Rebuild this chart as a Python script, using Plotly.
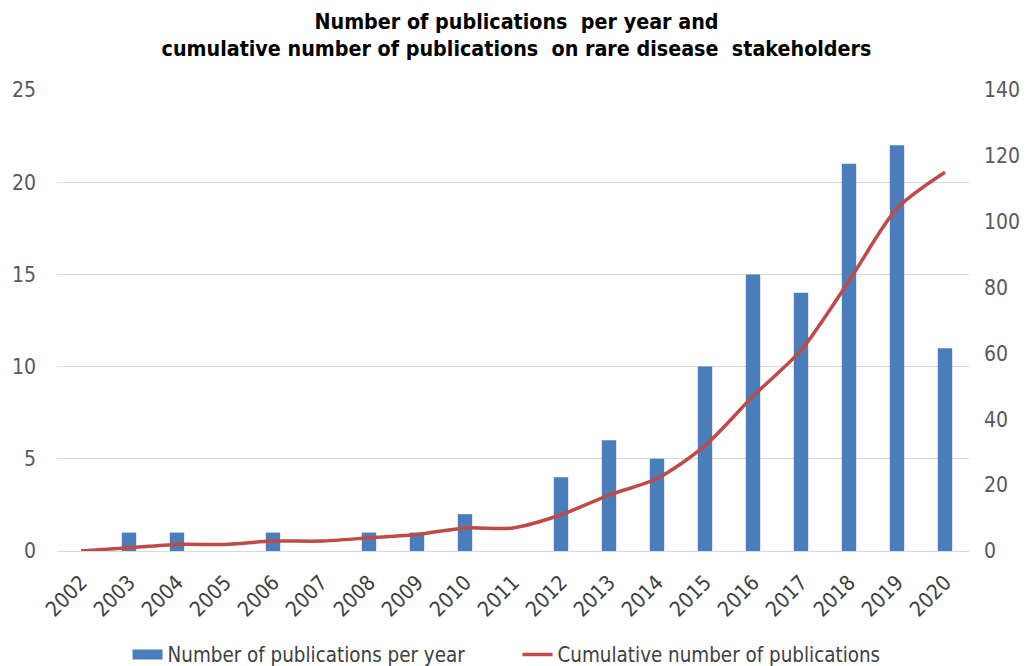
import plotly.graph_objects as go

years = [str(y) for y in range(2002, 2021)]
per_year = [0, 1, 1, 0, 1, 0, 1, 1, 2, 0, 4, 6, 5, 10, 15, 14, 21, 22, 11]
cumulative = [0, 1, 2, 2, 3, 3, 4, 5, 7, 7, 11, 17, 22, 32, 47, 61, 82, 104, 115]

FONT = "DejaVu Sans Condensed, Liberation Sans, Arial"
BAR_COLOR = "#4a7ebb"
LINE_COLOR = "#be4b48"

fig = go.Figure()
fig.add_trace(go.Bar(
    x=years, y=per_year, name="Number of publications per year",
    marker=dict(color=BAR_COLOR, line=dict(width=0)), yaxis="y",
    showlegend=False, legendgroup="bars",
))
# legend entry for the bars, drawn as a wide rectangle like the reference
fig.add_trace(go.Scatter(
    x=[None], y=[None], name="Number of publications per year",
    mode="lines", line=dict(color=BAR_COLOR, width=10), legendgroup="bars",
    yaxis="y",
))
fig.add_trace(go.Scatter(
    x=years, y=cumulative, name="Cumulative number of publications",
    mode="lines", line=dict(color=LINE_COLOR, width=3.5, shape="spline", smoothing=0.8),
    yaxis="y2",
))

fig.update_layout(
    width=1033, height=666,
    margin=dict(l=57, r=64, t=90, b=115, autoexpand=False),
    paper_bgcolor="white", plot_bgcolor="white",
    font=dict(family=FONT, size=20, color="#595959"),
    title=dict(
        text="<b>Number of publications  per year and<br>cumulative number of publications  on rare disease  stakeholders</b>",
        x=0.5, xanchor="center", yref="container", y=0.957, yanchor="top",
        font=dict(family=FONT, size=21.3, color="#000000"),
    ),
    bargap=0.7,
    showlegend=True,
    legend=dict(orientation="h", x=0.505, xanchor="center", yref="container",
                y=0.017, yanchor="middle",
                font=dict(family=FONT, size=20.4, color="#404040"), traceorder="normal",
                entrywidth=345, entrywidthmode="pixels", tracegroupgap=0),
    xaxis=dict(
        type="category", tickangle=-45, showgrid=False, showline=True,
        linecolor="#d9d9d9", linewidth=1, ticks="",
        tickfont=dict(family=FONT, size=21, color="#404040"),
        ticklabelstandoff=10,
    ),
    yaxis=dict(
        range=[0, 25], dtick=5, showgrid=True, gridcolor="#d9d9d9", gridwidth=1,
        zeroline=False, ticks="", tickfont=dict(family=FONT, size=21, color="#595959"),
        ticklabelstandoff=20,
    ),
    yaxis2=dict(
        range=[0, 140], dtick=20, overlaying="y", side="right", showgrid=False,
        zeroline=False, ticks="", tickfont=dict(family=FONT, size=21, color="#595959"),
        ticklabelstandoff=14,
    ),
)

fig.write_html("out.html")
